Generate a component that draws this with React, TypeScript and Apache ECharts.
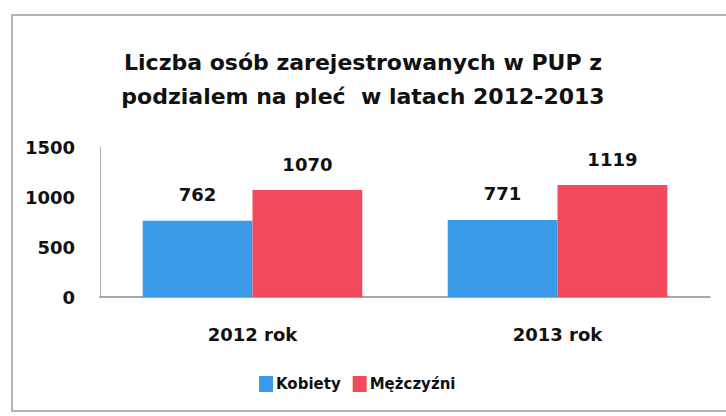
import React, { useEffect, useRef } from "react";
import * as echarts from "echarts";

const categories = ["2012 rok", "2013 rok"];
const seriesNames = ["Kobiety", "Mężczyźni"];
const kobiety = [762, 771];
const mezczyzni = [1070, 1119];
const yTicks = { min: 0, max: 1500, interval: 500 };
const titleText = "Liczba osób zarejestrowanych w PUP z\npodzialem na pleć  w latach 2012-2013";

const FONT = "DejaVu Sans";

export default function App() {
  const ref = useRef<HTMLDivElement>(null);
  useEffect(() => {
    if (!ref.current) return;
    const chart = echarts.init(ref.current, undefined, { renderer: "svg" });
    const labelStyle = {
      show: true,
      position: "top" as const,
      distance: 17,
      fontFamily: FONT,
      fontWeight: "bold" as const,
      fontSize: 18,
      color: "#111111",
    };
    chart.setOption({
      animation: false,
      backgroundColor: "#ffffff",
      title: {
        text: titleText,
        left: "center",
        top: 40,
        textStyle: {
          fontFamily: FONT,
          fontWeight: "bold",
          fontSize: 22,
          lineHeight: 34,
          color: "#111111",
        },
      },
      graphic: [
        {
          type: "rect",
          shape: { x: 12, y: 15, width: 740, height: 396 },
          style: { fill: "none", stroke: "#9a9a9a", lineWidth: 1.5 },
          silent: true,
        },
      ],
      legend: {
        data: seriesNames,
        left: 254,
        top: 371,
        itemWidth: 14,
        itemHeight: 16,
        itemGap: 12,
        icon: "rect",
        textStyle: {
          fontFamily: FONT,
          fontWeight: "bold",
          fontSize: 15,
          color: "#111111",
          padding: [0, 0, 0, -2],
        },
      },
      grid: { left: 100, right: 16, top: 147, bottom: 119 },
      xAxis: {
        type: "category",
        data: categories,
        axisLine: { lineStyle: { color: "#8a8a8a", width: 1.5 } },
        axisTick: { show: false },
        axisLabel: {
          margin: 28,
          fontFamily: FONT,
          fontWeight: "bold",
          fontSize: 18,
          color: "#111111",
        },
      },
      yAxis: {
        type: "value",
        min: yTicks.min,
        max: yTicks.max,
        interval: yTicks.interval,
        axisLine: { show: true, lineStyle: { color: "#b0b0b0", width: 1 } },
        axisTick: { show: false },
        splitLine: { show: false },
        axisLabel: {
          margin: 25,
          formatter: (v: number) => String(v),
          fontFamily: FONT,
          fontWeight: "bold",
          fontSize: 18,
          color: "#111111",
        },
      },
      series: [
        {
          name: seriesNames[0],
          type: "bar",
          data: kobiety,
          barGap: "0%",
          barCategoryGap: "28%",
          itemStyle: { color: "#3b9ae8" },
          label: labelStyle,
        },
        {
          name: seriesNames[1],
          type: "bar",
          data: mezczyzni,
          barGap: "0%",
          barCategoryGap: "28%",
          itemStyle: { color: "#f04a5c" },
          label: labelStyle,
        },
      ],
    });
    return () => chart.dispose();
  }, []);
  return (
    <div
      ref={ref}
      style={{ position: "fixed", left: 0, top: 0, width: 726, height: 416 }}
    />
  );
}
